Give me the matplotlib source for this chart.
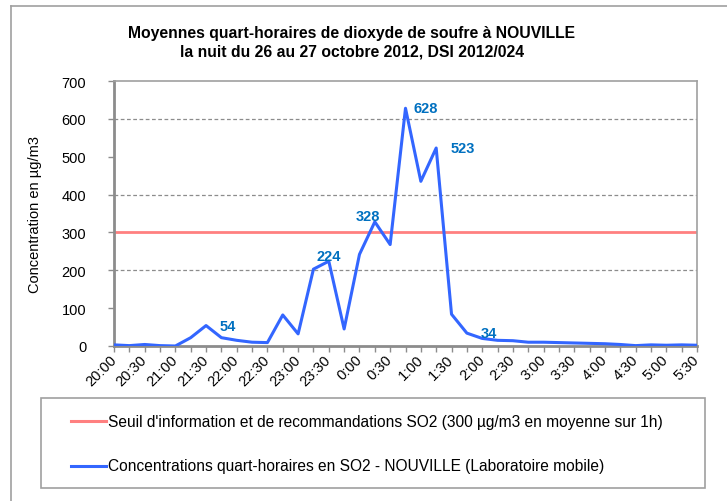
import matplotlib
matplotlib.use("Agg")
import matplotlib.pyplot as plt
from matplotlib.patches import Rectangle
from matplotlib.lines import Line2D

plt.rcParams['font.family'] = ['Liberation Sans', 'DejaVu Sans']

# quarter-hour timestamps, night of 26-27 Oct 2012
times = ["20:00", "20:15", "20:30", "20:45", "21:00", "21:15", "21:30", "21:45",
         "22:00", "22:15", "22:30", "22:45", "23:00", "23:15", "23:30", "23:45",
         "0:00", "0:15", "0:30", "0:45", "1:00", "1:15", "1:30", "1:45",
         "2:00", "2:15", "2:30", "2:45", "3:00", "3:15", "3:30", "3:45",
         "4:00", "4:15", "4:30", "4:45", "5:00", "5:15", "5:30"]
so2 = [3, 1, 4, 1, 0, 22, 54, 22,
       15, 10, 9, 82, 32, 203, 224, 45,
       242, 328, 268, 628, 435, 523, 84, 34,
       20, 15, 14, 10, 10, 9, 8, 7,
       6, 4, 1, 3, 2, 3, 2]
threshold = 300

# labelled peaks: index in times, offset of the label in pixels
peak_idx = [6, 14, 17, 19, 21, 23]
peak_offsets = [(22, 0), (0, 5), (-7, 6), (20, 0), (27, 0), (22, 0)]

legend_labels = ["Seuil d'information et de recommandations SO2 (300 µg/m3 en moyenne sur 1h)",
                 "Concentrations quart-horaires en SO2 - NOUVILLE (Laboratoire mobile)"]

red = "#FF8080"
blue = "#3366FF"
lblue = "#0070C0"
grey = "#8C8C8C"

W, H = 727, 502
fig = plt.figure(figsize=(W / 100, H / 100), dpi=100)
ax = fig.add_axes([114 / W, 1 - 347 / H, (697 - 114) / W, (347 - 82) / H])

x = list(range(len(times)))
ax.axhline(threshold, color=red, lw=2, zorder=2)
ax.plot(x, so2, color=blue, lw=2.2, zorder=3)

for i, (dx, dy) in zip(peak_idx, peak_offsets):
    ax.annotate(str(so2[i]), (i, so2[i]), xytext=(dx, dy), textcoords='offset pixels',
                ha='center', va='center', color=lblue, fontsize=10.5, fontweight='bold')

ax.set_xlim(0, len(times) - 1)
ax.set_ylim(0, 700)
ax.set_yticks(range(0, 701, 100))
for g in (200, 400, 600):
    ax.axhline(g, color=grey, lw=0.9, ls=(0, (3, 2)), zorder=1)

ax.set_xticks(x)
ax.set_xticklabels([t if k % 2 == 0 else "" for k, t in enumerate(times)],
                   rotation=45, ha='right', va='center', rotation_mode='anchor', fontsize=10.5)
ax.tick_params(axis='x', length=4, color=grey, width=1, pad=4)
ax.tick_params(axis='y', length=4, color=grey, width=1, labelsize=10.5, pad=16)

for s in ['left', 'bottom']:
    ax.spines[s].set_color(grey)
    ax.spines[s].set_linewidth(2)
for s in ['top', 'right']:
    ax.spines[s].set_color("#A0A0A0")
    ax.spines[s].set_linewidth(1.2)

ax.set_ylabel("Concentration en µg/m3", fontsize=10.5, labelpad=14)

fig.text(352 / W, 1 - 34 / H, "Moyennes quart-horaires de dioxyde de soufre à NOUVILLE",
         ha='center', va='center', fontsize=11.3, fontweight='bold')
fig.text(352 / W, 1 - 52 / H, "la nuit du 26 au 27 octobre 2012, DSI 2012/024",
         ha='center', va='center', fontsize=11.3, fontweight='bold')

# outer chart border (top and left visible)
fig.add_artist(Line2D([11 / W, 1], [1 - 7 / H, 1 - 7 / H], color="#A0A0A0", lw=1.2))
fig.add_artist(Line2D([11 / W, 11 / W], [1 - 7 / H, 0], color="#A0A0A0", lw=1.2))

# legend box
fig.add_artist(Rectangle((41 / W, 1 - 489 / H), (705 - 41) / W, (489 - 399) / H,
                         transform=fig.transFigure, fill=False, edgecolor="#A0A0A0", lw=1.2))
for lab, col, yy in zip(legend_labels, [red, blue], [422, 467]):
    fig.add_artist(Line2D([71 / W, 106 / W], [1 - yy / H] * 2, color=col, lw=2.2))
    fig.text(108 / W, 1 - yy / H, lab, ha='left', va='center', fontsize=11.2)

fig.savefig("out.png", dpi=100)
